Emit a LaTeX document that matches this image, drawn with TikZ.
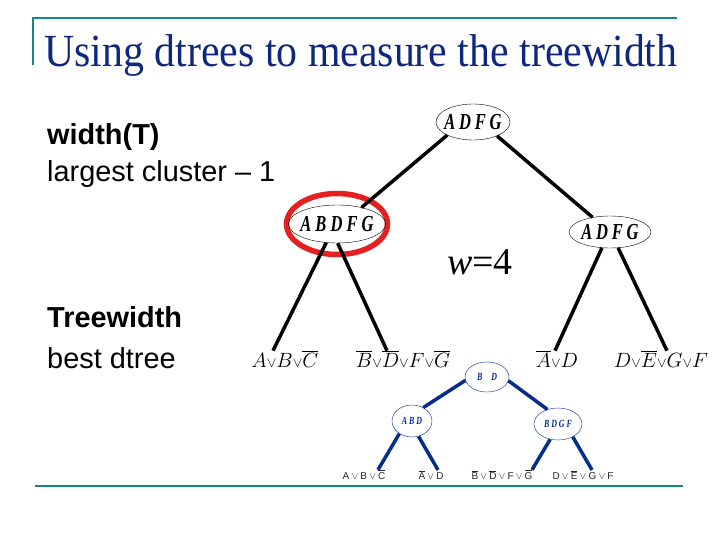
\documentclass[tikz,border=0pt]{standalone}
\usepackage{fontspec}
\setmainfont{Liberation Serif}
\setsansfont{Liberation Sans}
\newfontfamily\clusterfont[FakeStretch=0.72]{Liberation Serif}
\usetikzlibrary{shapes.geometric}

\definecolor{slideteal}{RGB}{20,135,135}
\definecolor{titleblue}{RGB}{15,40,125}
\definecolor{dtblue}{RGB}{5,45,140}
\definecolor{ringred}{RGB}{228,32,32}

\newcommand{\sor}{{\scriptstyle\vee}}

\begin{document}
\begin{tikzpicture}[x=1bp, y=-1bp,
    cluster/.style={draw, ellipse, inner xsep=-8bp, inner ysep=2bp,
                    font=\fontsize{23}{23}\selectfont\clusterfont\bfseries\itshape},
    minicluster/.style={draw=dtblue, ellipse, inner xsep=-4bp, inner ysep=1bp, text=dtblue,
                        font=\fontsize{11}{11}\selectfont\clusterfont\bfseries\itshape},
    clause/.style={anchor=base, inner sep=0pt, font=\fontsize{21}{21}\selectfont},
    miniclause/.style={anchor=base, inner sep=0pt, text=black!85, font=\fontsize{10}{10}\selectfont},
    edge/.style={line width=3.5bp},
    miniedge/.style={draw=dtblue, line width=3.5bp},
    bullet/.style={anchor=base west, inner sep=0pt, font=\fontsize{29}{35}\selectfont\sffamily},
    rule/.style={draw=slideteal, line width=2.5bp}
  ]
  \useasboundingbox[fill=white] (0,0) rectangle (720,540);

  \draw[rule] (33,65) -- (33,18) -- (677,18);
  \draw[rule] (35,486) -- (683,486);

  \node[anchor=base west, inner sep=0pt, text=titleblue, font=\fontsize{42}{42}\selectfont]
    (title) at (44,67) {\scalebox{1}[1.1]{Using dtrees to measure the treewidth}};

  \node[bullet] (width) at (47,145) {\bfseries width(T)};
  \node[bullet] (largest) at (47,182) {largest cluster -- 1};
  \node[bullet] (treewidth) at (47,327) {\bfseries Treewidth};
  \node[bullet] (best) at (47,368) {best dtree};

  % dtree of width 4
  \node[ellipse, draw=ringred, line width=5.5bp, minimum width=101bp, minimum height=61bp]
    (ring) at (337,224) {};
  \node[cluster, minimum width=74bp, minimum height=36bp] (root) at (473,122) {A\,D\,F\,G};
  \node[cluster, minimum width=97bp, minimum height=38bp] (abdfg) at (337,224) {A B D F G};
  \node[cluster, minimum width=82bp, minimum height=32bp] (adfg) at (610,232) {A\,D\,F\,G};

  \node[clause] (ca) at (285,367) {$A\sor B\sor\overline{C}$};
  \node[clause] (cb) at (403,367) {$\overline{B}\sor\overline{D}\sor F\sor\overline{G}$};
  \node[clause] (cc) at (557,367) {$\overline{A}\sor D$};
  \node[clause] (cd) at (661,367) {$D\sor\overline{E}\sor G\sor F$};

  \draw[edge] (root.207) -- (abdfg.34);
  \draw[edge] (root.330) -- (adfg.140);
  \draw[edge] (abdfg.240) -- ([xshift=-12bp]ca.north);
  \draw[edge] (abdfg.272) -- ([xshift=-16bp]cb.north);
  \draw[edge] (adfg.243) -- ([xshift=-2bp]cc.north);
  \draw[edge] (adfg.297) -- ([xshift=6bp]cd.north);

  \node[font=\fontsize{38}{38}\selectfont] (w) at (480,262) {\itshape w\upshape =4};

  % best dtree
  \node[minicluster, minimum width=44bp, minimum height=30bp] (bd) at (487,377) {B\hspace{9bp}D};
  \node[minicluster, minimum width=40bp, minimum height=32bp] (abd) at (412,421) {A B D};
  \node[minicluster, minimum width=48bp, minimum height=32bp] (bdgf) at (558,424) {B D G F};

  \node[miniclause] (sa) at (364,479) {$\mathsf{A}\vee\mathsf{B}\vee\overline{\mathsf{C}}$};
  \node[miniclause] (sb) at (431,479) {$\overline{\mathsf{A}}\vee\mathsf{D}$};
  \node[miniclause] (sc) at (502,479) {$\overline{\mathsf{B}}\vee\overline{\mathsf{D}}\vee\mathsf{F}\vee\overline{\mathsf{G}}$};
  \node[miniclause] (sd) at (583,479) {$\mathsf{D}\vee\overline{\mathsf{E}}\vee\mathsf{G}\vee\mathsf{F}$};

  \draw[miniedge] (bd.189) -- (abd.50);
  \draw[miniedge] (bd.350) -- (bdgf.126);
  \draw[miniedge] (abd.225) -- ([xshift=14bp]sa.north);
  \draw[miniedge] (abd.293) -- ([xshift=7bp]sb.north);
  \draw[miniedge] (bdgf.243) -- ([xshift=30bp]sc.north);
  \draw[miniedge] (bdgf.319) -- ([xshift=9bp]sd.north);
\end{tikzpicture}
\end{document}
